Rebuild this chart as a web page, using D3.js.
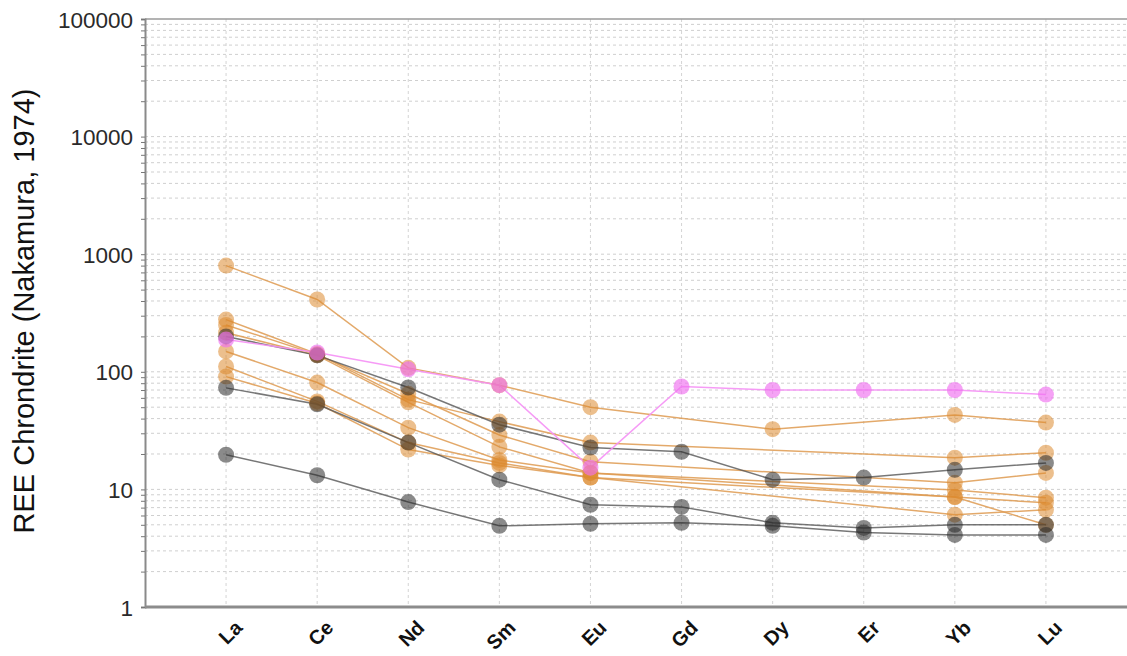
<!DOCTYPE html>
<html>
<head>
<meta charset="utf-8">
<script src="https://cdn.jsdelivr.net/npm/d3@7"></script>
<style>
  html, body { margin: 0; padding: 0; background: #fff; }
  svg { display: block; font-family: "Liberation Sans", Arial, sans-serif; }
</style>
</head>
<body>
<svg id="chart" width="1127" height="656"></svg>
<script>
// Rare earth elements, in plotting order
const elements = ["La", "Ce", "Nd", "Sm", "Eu", "Gd", "Dy", "Er", "Yb", "Lu"];
const yTicks = [1, 10, 100, 1000, 10000, 100000];

// Chondrite-normalised REE values (null = not analysed)
const orange1 = [800, 412, 108, 77, 50, null, 32.5, null, 43, 37];
const orange2 = [278, 142, 58, 37.7, 25, null, null, null, 18.6, 20.5];
const orange3 = [250, 140, 65, 29, 17.2, null, null, null, 11.4, 13.8];
const orange4 = [215, 138, 55, 23, 13.8, null, null, null, 9.9, 8.5];
const orange5 = [149, 81, 33.5, 17.8, 13.8, null, null, null, 8.6, 7.7];
const orange6 = [111, 56, 25, 16.8, 12.6, null, null, null, 6.1, 6.7];
const orange7 = [91, 54, 21.8, 16, 12.6, null, null, null, 8.6, 5.0];

const gray1 = [200, 138, 73.5, 35.5, 22.7, 20.9, 12.1, 12.6, 14.7, 16.8];
const gray2 = [73, 53, 25, 12.1, 7.4, 7.1, 5.2, 4.7, 5.0, 5.0];
const gray3 = [19.7, 13.2, 7.8, 4.9, 5.1, 5.2, 4.9, 4.3, 4.1, 4.1];

const magenta1 = [188, 146, 105, 77, 15.3, 75, 70, 70, 70, 64];

const styles = {
  orange:  { fill: "#dc8a30", fillOpacity: 0.55, stroke: "#de9a50", strokeOpacity: 0.85 },
  gray:    { fill: "#2a2a2a", fillOpacity: 0.55, stroke: "#555555", strokeOpacity: 0.8 },
  magenta: { fill: "#f070f0", fillOpacity: 0.65, stroke: "#f590f5", strokeOpacity: 0.9 }
};

const series = [
  { group: "orange", values: orange1 },
  { group: "orange", values: orange2 },
  { group: "orange", values: orange3 },
  { group: "orange", values: orange4 },
  { group: "orange", values: orange5 },
  { group: "orange", values: orange6 },
  { group: "orange", values: orange7 },
  { group: "gray", values: gray1 },
  { group: "gray", values: gray2 },
  { group: "gray", values: gray3 },
  { group: "magenta", values: magenta1 }
];

const plot = { left: 145, right: 1127, top: 19, bottom: 607 };
const svg = d3.select("#chart");

const x = d3.scalePoint().domain(elements).range([plot.left, plot.right]).padding(0.89);
const y = d3.scaleLog().domain([1, 100000]).range([plot.bottom, plot.top]);

// Minor + major values for the log grid
const gridValues = [];
for (let d = 0; d < 5; d++) {
  for (let k = 1; k <= 9; k++) gridValues.push(k * Math.pow(10, d));
}
gridValues.push(100000);

const grid = svg.append("g");
grid.selectAll("line.h").data(gridValues.slice(1, -1)).join("line")
  .attr("x1", plot.left).attr("x2", plot.right)
  .attr("y1", d => y(d)).attr("y2", d => y(d))
  .attr("stroke", "#cfcfcf").attr("stroke-width", 1)
  .attr("stroke-dasharray", "3,3");
grid.selectAll("line.v").data(elements).join("line")
  .attr("x1", d => x(d)).attr("x2", d => x(d))
  .attr("y1", plot.top).attr("y2", plot.bottom)
  .attr("stroke", "#d4d4d4").attr("stroke-width", 1)
  .attr("stroke-dasharray", "3,3");

// Top frame line
svg.append("line")
  .attr("x1", plot.left).attr("x2", plot.right)
  .attr("y1", y(100000)).attr("y2", y(100000))
  .attr("stroke", "#9a9a9a").attr("stroke-width", 1.5);

// Left axis with minor ticks
const yAxis = d3.axisLeft(y)
  .tickValues(gridValues)
  .tickSize(4)
  .tickFormat(d => yTicks.includes(d) ? d3.format("d")(d) : "");
const ya = svg.append("g").attr("transform", `translate(${plot.left},0)`).call(yAxis);
ya.select(".domain").attr("stroke", "#8a8a8a").attr("stroke-width", 2);
ya.selectAll(".tick line").attr("stroke", "#777");
ya.selectAll(".tick text")
  .attr("font-size", 22.5).attr("fill", "#2a2a2a")
  .attr("x", -12).attr("dy", "0.36em");

// Bottom axis
const xAxis = d3.axisBottom(x).tickSize(0).tickFormat(d => d);
const xa = svg.append("g").attr("transform", `translate(0,${plot.bottom})`).call(xAxis);
xa.select(".domain").attr("stroke", "#8c8c8c").attr("stroke-width", 3)
  .attr("d", `M${plot.left},0H${plot.right}`);
xa.selectAll(".tick text")
  .attr("font-size", 20).attr("font-weight", "bold").attr("fill", "#111")
  .attr("text-anchor", "end")
  .attr("y", 0).attr("dy", 0)
  .attr("transform", "translate(17,22) rotate(-45)");

// Y axis title
svg.append("text")
  .attr("transform", "translate(34,311) rotate(-90)")
  .attr("text-anchor", "middle")
  .attr("font-size", 29).attr("fill", "#111")
  .text("REE Chrondrite (Nakamura, 1974)");

// Series lines
const line = d3.line()
  .x(d => x(d.el)).y(d => y(d.v));

const toPoints = s => elements.map((el, i) => ({ el, v: s.values[i] }))
  .filter(d => d.v != null);

const lines = svg.append("g");
series.forEach(s => {
  const st = styles[s.group];
  lines.append("path")
    .datum(toPoints(s))
    .attr("d", line)
    .attr("fill", "none")
    .attr("stroke", st.stroke)
    .attr("stroke-opacity", st.strokeOpacity)
    .attr("stroke-width", 1.5);
});

// Series markers
const marks = svg.append("g");
series.forEach(s => {
  const st = styles[s.group];
  marks.selectAll(null).data(toPoints(s)).join("circle")
    .attr("cx", d => x(d.el)).attr("cy", d => y(d.v))
    .attr("r", 8)
    .attr("fill", st.fill)
    .attr("fill-opacity", st.fillOpacity);
});
</script>
</body>
</html>
